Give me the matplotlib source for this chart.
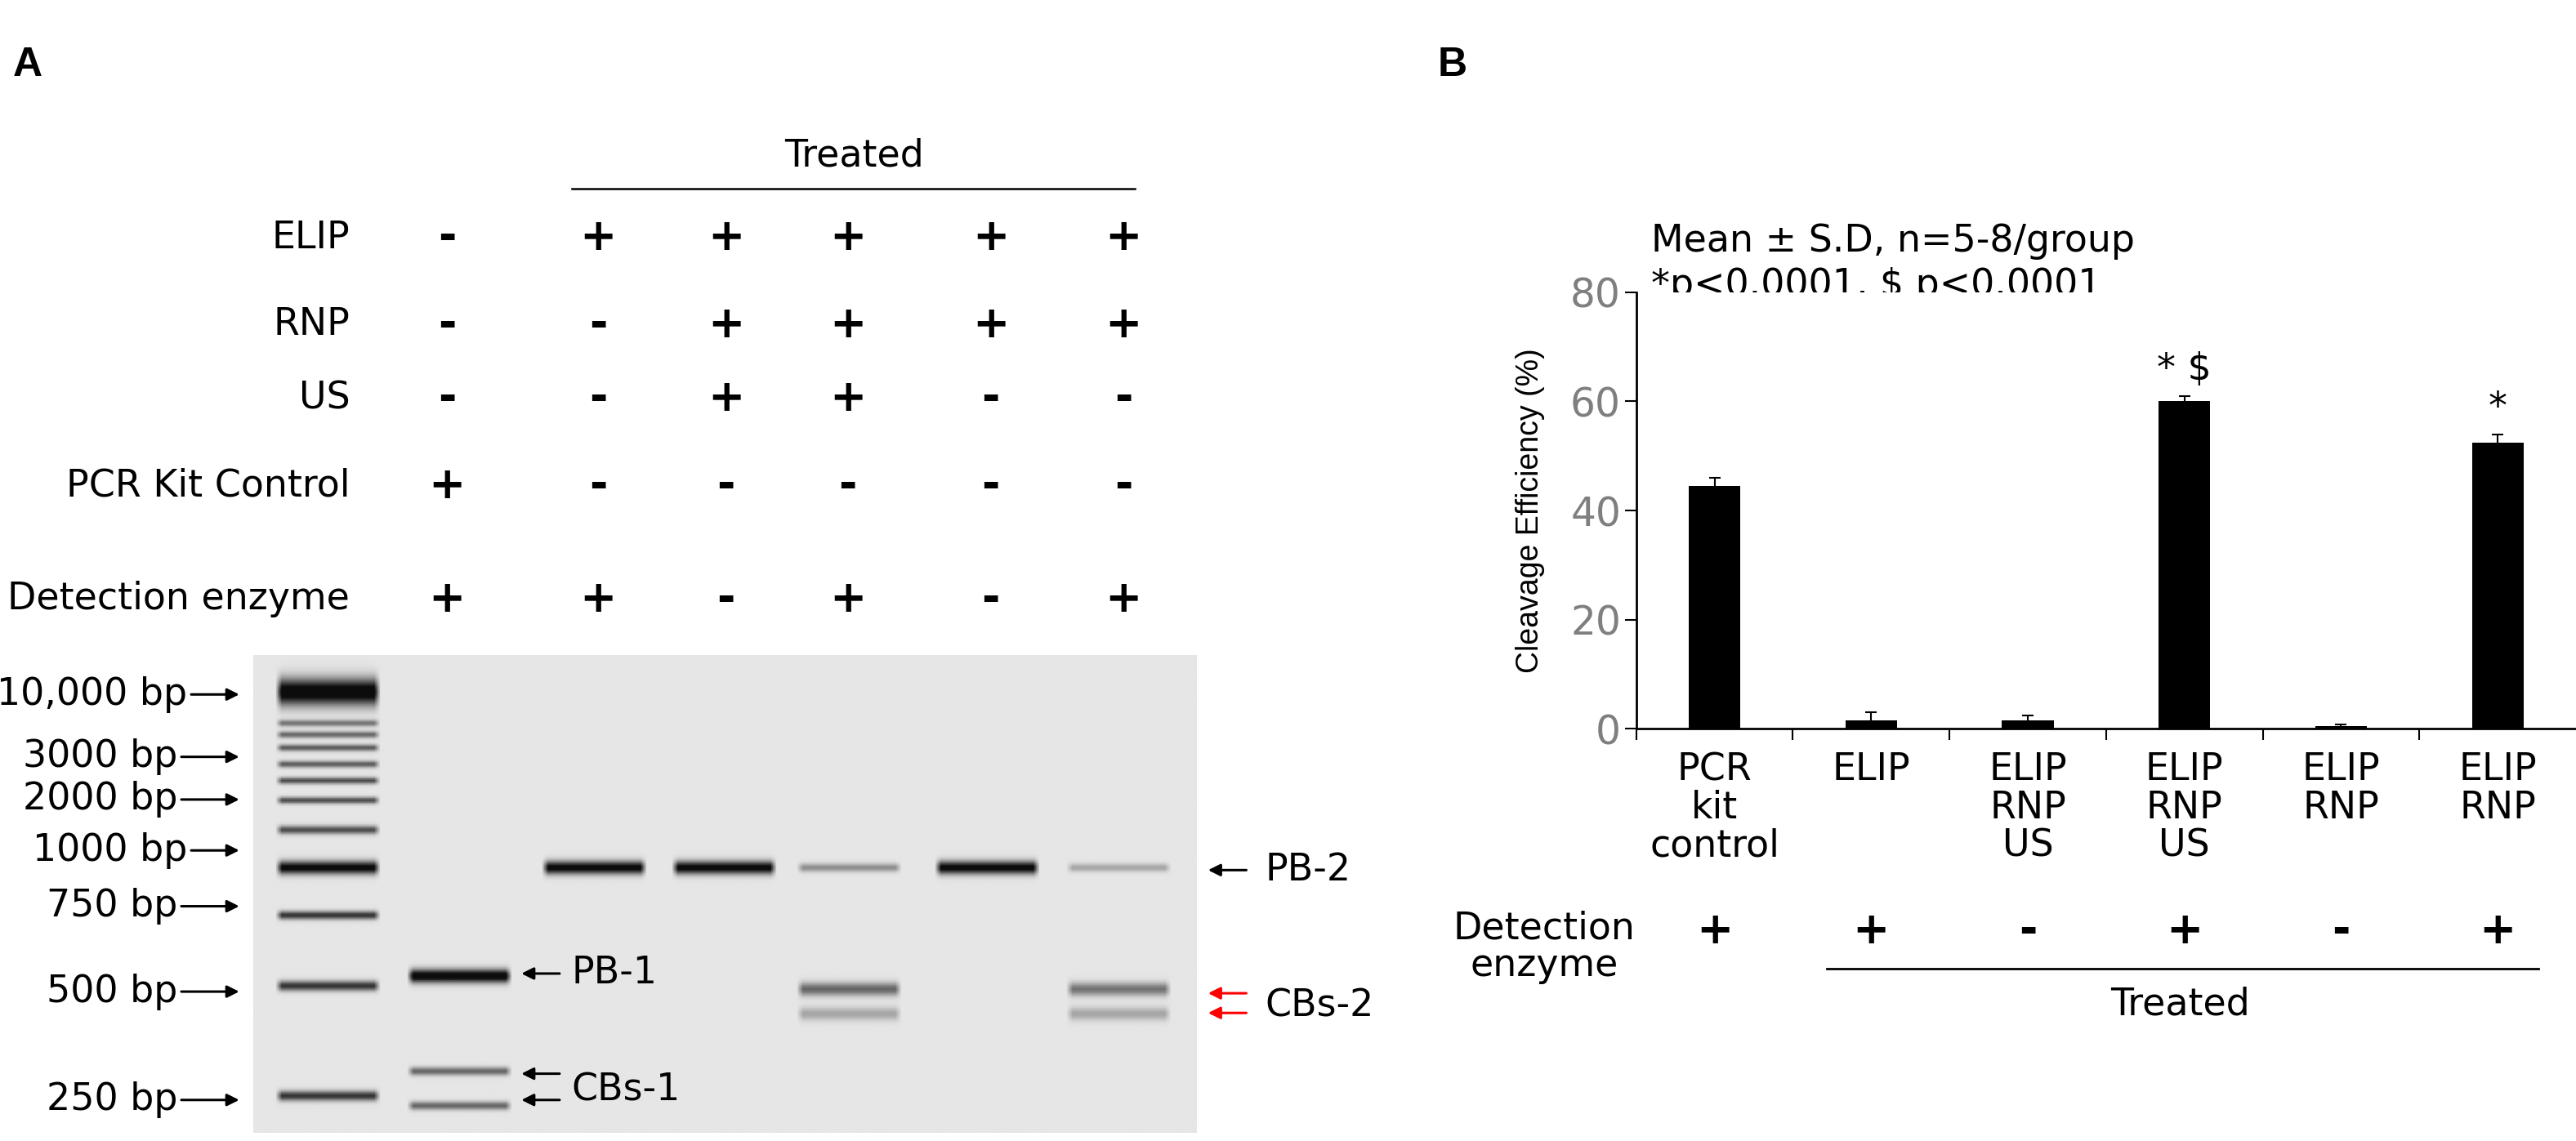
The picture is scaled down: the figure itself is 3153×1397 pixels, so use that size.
import numpy as np
import matplotlib.pyplot as plt

plt.rcParams['font.family'] = ['Liberation Sans Narrow', 'DejaVu Sans']

# ---- panel B data ----
groups = ["PCR\nkit\ncontrol", "ELIP", "ELIP\nRNP\nUS", "ELIP\nRNP\nUS", "ELIP\nRNP", "ELIP\nRNP"]
efficiency = [44.5, 1.5, 1.5, 60.0, 0.5, 52.5]
sd = [1.5, 1.5, 1.0, 1.0, 0.3, 1.5]
marks = ["", "", "", "* $", "", "*"]
det_b = ["+", "+", "-", "+", "-", "+"]

# ---- panel A data ----
row_names = ["ELIP", "RNP", "US", "PCR Kit Control", "Detection enzyme"]
row_y = [145, 198, 243, 296, 365]
row_signs = [
    ["-", "+", "+", "+", "+", "+"],
    ["-", "-", "+", "+", "+", "+"],
    ["-", "-", "+", "+", "-", "-"],
    ["+", "-", "-", "-", "-", "-"],
    ["+", "+", "-", "+", "-", "+"],
]
sign_x = [272, 364, 442, 516, 603, 684]
lane_x = [279, 361, 440, 516, 600, 680]
ladder_x = 199
ladder_labels = ["10,000 bp", "3000 bp", "2000 bp", "1000 bp", "750 bp", "500 bp", "250 bp"]
ladder_y = [423, 461, 487, 518, 552, 604, 670]
ladder_bands = [(421, 1.0, 8), (440, .45, 2), (447, .5, 2), (455, .55, 2), (465, .55, 2),
                (475, .6, 2), (487, .6, 2), (505, .6, 2.5), (528, .9, 4),
                (557, .7, 2.5), (600, .7, 3), (667, .7, 3)]
# (lane index, y, intensity, half-thickness)
lane_bands = [(0, 594, 1.0, 4), (0, 652, .5, 2.5), (0, 673, .5, 2.5),
              (1, 528, .9, 4), (2, 528, .9, 4), (3, 528, .35, 2.5), (3, 602, .5, 4),
              (3, 617, .25, 4), (4, 528, .9, 4), (5, 528, .25, 2.5), (5, 602, .45, 4),
              (5, 617, .25, 4)]

W, H = 1568, 695
fig = plt.figure(figsize=(31.53, 13.97), dpi=100)
ov = fig.add_axes([0, 0, 1, 1])
ov.axis("off")

fs = 33
# gel image
gx0, gx1, gy0, gy1 = 154, 728, 399, 690
xs = np.arange(gx0, gx1)
ys = np.arange(gy0, gy1)[:, None]
img = np.full((len(ys), len(xs)), 0.9)
def band(cx, cy, amp, th, hw=32):
    prof_x = np.clip((hw - np.abs(xs - cx)) / 4.0, 0, 1)
    prof_y = np.exp(-((ys - cy) / th) ** 2)
    return amp * prof_y * prof_x
for y, a, t in ladder_bands:
    img -= band(ladder_x, y, a, t)
for li, y, a, t in lane_bands:
    img -= band(lane_x[li], y, a, t)
img = np.clip(img, 0.05, 1)
ov.imshow(img, cmap="gray", vmin=0, vmax=1, extent=(gx0, gx1, gy1, gy0), aspect="auto", zorder=1)
ov.set_xlim(0, W)
ov.set_ylim(H, 0)

ov.text(8, 40, "A", fontsize=36, fontweight="bold", va="center", family="Liberation Sans")
ov.text(875, 40, "B", fontsize=36, fontweight="bold", va="center", family="Liberation Sans")

ov.plot([348, 691], [115, 115], color="black", lw=1.8)
ov.text(520, 95, "Treated", fontsize=fs, ha="center", va="center")
for name, y, signs in zip(row_names, row_y, row_signs):
    ov.text(213, y, name, fontsize=fs, ha="right", va="center")
    for lx, s in zip(sign_x, signs):
        ov.text(lx, y, s, fontsize=fs + 6, ha="center", va="center", fontweight="bold")

arr = dict(arrowstyle="-|>", color="black", lw=2.2, mutation_scale=22)
for lab, y in zip(ladder_labels, ladder_y):
    end = 114 if lab.startswith("10") else 108
    ov.text(end, y, lab, fontsize=fs, ha="right", va="center")
    ov.annotate("", xy=(147, y), xytext=(end + 1, y), arrowprops=arr)

ov.annotate("", xy=(734, 530), xytext=(760, 530), arrowprops=arr)
ov.text(770, 530, "PB-2", fontsize=fs, va="center")
ov.annotate("", xy=(316, 593), xytext=(342, 593), arrowprops=arr)
ov.text(348, 593, "PB-1", fontsize=fs, va="center")
for y in (654, 670):
    ov.annotate("", xy=(316, y), xytext=(342, y), arrowprops=arr)
ov.text(348, 664, "CBs-1", fontsize=fs, va="center")
red = dict(arr, color="red")
for y in (605, 617):
    ov.annotate("", xy=(734, y), xytext=(760, y), arrowprops=red)
ov.text(770, 613, "CBs-2", fontsize=fs, va="center")

# ---- panel B ----
ax = fig.add_axes([996 / W, 1 - 444 / H, (W - 996) / W, (444 - 178) / H])
x = np.arange(len(efficiency))
ax.bar(x, efficiency, width=0.33, color="black", yerr=sd, capsize=5,
       error_kw=dict(ecolor="black", elinewidth=1.5, capthick=1.5))
for xi, v, e, m in zip(x, efficiency, sd, marks):
    if m:
        ax.text(xi, v + e + 1.5, m, fontsize=fs, ha="center", va="bottom")
ax.set_xlim(-0.5, 5.5)
ax.set_ylim(0, 80)
ax.set_yticks([0, 20, 40, 60, 80])
ax.tick_params(axis="y", labelsize=fs + 2, labelcolor="#7f7f7f", length=10, width=1.5)
ax.set_xticks(x - 0.5)
ax.set_xticklabels([])
ax.set_xticks(x, minor=True)
ax.set_xticklabels(groups, minor=True, fontsize=fs, va="top", linespacing=1.05)
ax.tick_params(axis="x", which="major", length=10, width=1.5)
ax.tick_params(axis="x", which="minor", length=0, pad=20)
for s in ("top", "right"):
    ax.spines[s].set_visible(False)
for s in ("left", "bottom"):
    ax.spines[s].set_linewidth(2)
ax.set_ylabel("Cleavage Efficiency (%)", fontsize=27, family="Liberation Sans", labelpad=22)

ov.text(1005, 147, "Mean \u00b1 S.D, n=5-8/group", fontsize=fs, va="center")
ov.text(1005, 174, "*p<0.0001, $ p<0.0001", fontsize=fs, va="center")
ov.text(940, 577, "Detection\nenzyme", fontsize=fs, ha="center", va="center", linespacing=1.0)
for xi, s in zip(x, det_b):
    ov.text(996 + (xi + 0.5) * (W - 996) / 6, 567, s, fontsize=fs + 6, ha="center",
            va="center", fontweight="bold")
ov.plot([1112, 1545], [590, 590], color="black", lw=2)
ov.text(1327, 612, "Treated", fontsize=fs, ha="center", va="center")

fig.savefig("out.png", dpi=100)
